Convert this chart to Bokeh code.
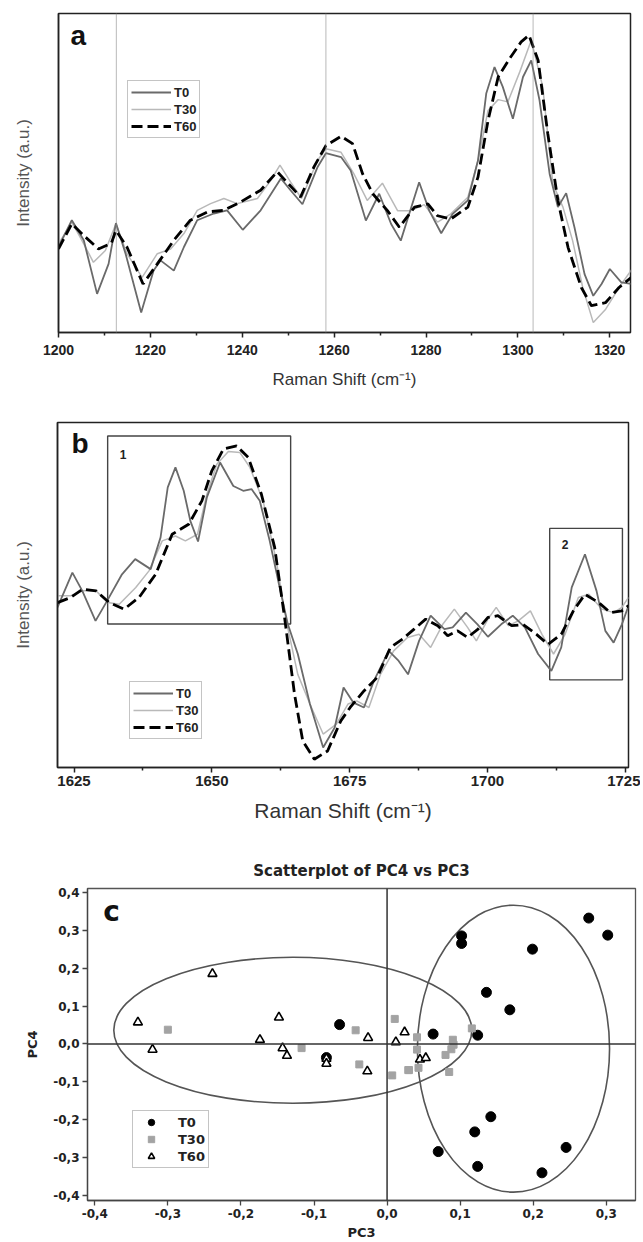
from bokeh.plotting import figure
from bokeh.models import Span, Label, Legend, LegendItem, FixedTicker, Range1d
from bokeh.embed import file_html
from bokeh.resources import INLINE

# ---------------- Panel a data ----------------
a_t0_x = [1200.0, 1202.9, 1205.5, 1208.4, 1210.9, 1212.5, 1214.6, 1218.0, 1220.7, 1222.2, 1225.1, 1227.3, 1230.2,
          1233.8, 1236.7, 1240.1, 1244.0, 1248.4, 1250.5, 1253.1, 1256.4, 1258.2, 1261.5, 1263.6, 1266.9, 1269.8,
          1272.4, 1274.5, 1278.5, 1280.7, 1283.3, 1285.8, 1289.1, 1291.3, 1293.1, 1294.9, 1296.7, 1298.9, 1301.1,
          1302.9, 1304.7, 1306.9, 1308.7, 1310.5, 1312.3, 1314.5, 1316.4, 1318.2, 1320.0, 1322.5, 1324.7]
a_t0_y = [26.8, 35.2, 28.9, 12.1, 21.5, 34.3, 24.7, 6.3, 19.4, 22.6, 19.4, 26.8, 35.2, 37.3, 38.3, 32.2, 38.3, 48.3,
          44.6, 40.2, 51.9, 56.2, 55.0, 50.8, 35.1, 43.5, 34.0, 28.8, 47.1, 38.2, 31.1, 37.2, 41.4, 53.9, 74.9, 83.2,
          77.0, 67.0, 80.1, 85.3, 72.8, 49.7, 39.3, 43.7, 33.0, 18.3, 11.5, 15.2, 19.9, 15.7, 15.2]
a_t30_x = [1200.0, 1202.9, 1205.5, 1207.6, 1210.2, 1212.5, 1214.9, 1218.2, 1221.5, 1224.4, 1227.3, 1230.2, 1233.1,
           1236.0, 1238.9, 1243.3, 1246.2, 1248.2, 1250.5, 1252.9, 1256.4, 1258.2, 1261.5, 1264.3, 1267.2, 1270.5,
           1273.8, 1276.7, 1279.6, 1282.5, 1285.4, 1289.1, 1291.3, 1293.5, 1295.7, 1297.8, 1300.4, 1302.9, 1305.4,
           1307.6, 1309.8, 1311.9, 1314.1, 1316.4, 1319.1, 1322.0, 1324.7]
a_t30_y = [27.8, 34.6, 27.8, 22.0, 25.7, 34.1, 24.7, 17.3, 24.7, 26.2, 31.0, 38.3, 40.4, 42.0, 40.4, 42.0, 47.7, 52.5,
           47.2, 42.0, 54.0, 57.6, 56.5, 49.7, 41.4, 46.8, 38.2, 38.2, 40.1, 34.6, 37.2, 42.4, 53.9, 69.6, 73.0, 72.3,
           81.7, 91.6, 77.0, 46.6, 39.3, 28.8, 14.1, 3.1, 7.3, 14.1, 19.6]
a_t60_x = [1200.0, 1202.9, 1205.5, 1208.7, 1211.5, 1212.5, 1214.9, 1218.4, 1221.5, 1225.1, 1228.7, 1232.4, 1236.0,
           1239.6, 1244.0, 1247.6, 1252.7, 1255.6, 1258.2, 1261.5, 1264.0, 1266.2, 1268.4, 1271.6, 1274.2, 1277.5,
           1280.4, 1282.5, 1285.4, 1289.1, 1291.3, 1293.5, 1295.7, 1298.2, 1300.7, 1302.4, 1304.4, 1306.5, 1308.7,
           1310.9, 1313.8, 1316.0, 1319.1, 1322.0, 1324.7]
a_t60_y = [26.2, 34.1, 30.4, 26.2, 28.0, 32.0, 26.8, 15.2, 21.5, 28.9, 35.2, 37.8, 38.3, 40.9, 44.6, 50.4, 42.5, 51.9,
           58.6, 61.5, 59.2, 49.7, 43.5, 38.2, 33.0, 39.3, 40.3, 36.6, 35.6, 39.3, 48.7, 66.5, 80.1, 85.9, 91.1, 93.2,
           85.3, 62.3, 41.4, 26.7, 14.1, 8.4, 9.4, 14.1, 17.3]
a_ref_lines = [1212.6, 1258.2, 1303.3]
a_ticks = [1200, 1220, 1240, 1260, 1280, 1300, 1320]
a_minor = [1210, 1230, 1250, 1270, 1290, 1310]

# ---------------- Panel b data ----------------
b_t0_x = [1622.0, 1624.7, 1626.5, 1628.9, 1631.0, 1633.7, 1636.1, 1638.9, 1640.7, 1642.0, 1643.4, 1644.9, 1646.1,
          1647.5, 1649.1, 1651.5, 1653.9, 1655.7, 1657.2, 1658.7, 1660.5, 1662.3, 1663.8, 1665.6, 1667.8, 1670.2,
          1672.3, 1673.9, 1675.7, 1677.6, 1679.4, 1682.1, 1683.9, 1685.6, 1687.6, 1689.7, 1692.2, 1693.7, 1696.1,
          1698.2, 1700.1, 1702.5, 1704.6, 1706.8, 1709.2, 1711.6, 1713.4, 1715.3, 1717.7, 1719.8, 1721.4, 1722.9,
          1724.4, 1725.6]
b_t0_y = [46.4, 56.5, 51.2, 42.5, 48.3, 56.0, 60.4, 57.5, 66.7, 81.2, 87.0, 80.2, 71.5, 65.5, 78.3, 88.4, 81.6, 80.2,
          80.7, 77.3, 65.7, 52.2, 41.5, 32.9, 18.4, 5.8, 11.6, 23.2, 18.8, 17.4, 25.1, 33.8, 30.9, 27.0, 36.7, 44.0,
          40.1, 40.6, 44.9, 41.5, 37.9, 41.5, 44.0, 40.6, 32.9, 28.0, 34.8, 52.2, 61.8, 51.2, 39.6, 36.2, 41.5, 46.9]
b_t30_x = [1622.0, 1624.4, 1626.6, 1629.0, 1631.1, 1633.2, 1636.2, 1638.6, 1641.0, 1643.4, 1645.2, 1647.4, 1649.1,
           1650.9, 1653.0, 1655.1, 1656.9, 1659.3, 1661.7, 1663.5, 1665.6, 1667.8, 1670.2, 1672.6, 1674.7, 1676.3,
           1678.5, 1680.6, 1683.0, 1685.5, 1687.6, 1689.7, 1691.9, 1694.0, 1696.4, 1698.0, 1700.1, 1701.6, 1703.8,
           1705.6, 1707.8, 1709.9, 1712.0, 1714.1, 1716.5, 1718.4, 1720.8, 1722.9, 1724.4, 1725.6]
b_t30_y = [49.8, 49.8, 51.2, 51.2, 47.8, 47.3, 52.2, 57.0, 65.7, 67.1, 65.7, 67.6, 79.2, 87.9, 91.6, 91.3, 87.0, 77.3,
           59.9, 42.5, 27.0, 18.4, 9.7, 12.6, 18.4, 19.3, 17.4, 27.0, 33.8, 37.7, 38.6, 34.8, 41.5, 45.9, 40.6, 36.7,
           43.0, 46.4, 41.1, 42.5, 45.4, 38.6, 32.9, 38.6, 49.3, 50.2, 45.9, 44.9, 46.4, 49.3]
b_t60_x = [1622.0, 1624.4, 1626.6, 1629.0, 1631.4, 1634.1, 1636.8, 1639.8, 1642.8, 1645.8, 1648.2, 1650.0, 1652.1,
           1654.5, 1656.6, 1659.0, 1661.4, 1663.2, 1665.0, 1666.5, 1668.6, 1671.0, 1673.4, 1675.1, 1677.6, 1680.0,
           1682.4, 1684.6, 1686.7, 1688.8, 1691.0, 1692.8, 1694.6, 1696.4, 1698.3, 1700.1, 1701.9, 1704.4, 1706.5,
           1708.9, 1711.0, 1713.4, 1715.6, 1717.7, 1720.2, 1722.3, 1724.4, 1725.6]
b_t60_y = [47.8, 49.3, 51.7, 51.2, 47.8, 45.9, 49.3, 56.0, 67.6, 70.5, 77.3, 86.0, 92.3, 93.2, 89.9, 79.2, 63.8, 43.5,
           21.3, 7.7, 2.4, 4.8, 13.5, 17.4, 22.2, 26.1, 34.8, 37.2, 40.1, 43.0, 41.1, 38.2, 39.6, 37.7, 40.1, 43.5,
           44.0, 41.1, 41.4, 38.6, 35.7, 38.6, 45.4, 50.2, 47.8, 44.9, 45.4, 46.9]
b_box_left = [1631.1, 1711.3]
b_box_right = [1664.3, 1724.5]
b_box_bottom = [41.6, 25.4]
b_box_top = [96.1, 69.3]
b_box_names = ["1", "2"]
b_box_label_x = [1633.9, 1714.1]
b_box_label_y = [90.6, 64.5]
b_ticks = [1625, 1650, 1675, 1700, 1725]
b_minor = [1637.5, 1662.5, 1687.5, 1712.5]

# ---------------- Panel c data ----------------
c_t0_x = [0.102, 0.102, 0.276, 0.302, 0.199, 0.136, 0.168, -0.065, 0.063, 0.124, -0.083, 0.142, 0.120, 0.070,
          0.124, 0.245, 0.212]
c_t0_y = [0.285, 0.265, 0.332, 0.287, 0.250, 0.136, 0.090, 0.051, 0.026, 0.023, -0.036, -0.192, -0.232, -0.284,
          -0.323, -0.273, -0.340]
c_t30_x = [-0.300, -0.117, -0.043, -0.038, 0.0105, 0.007, 0.030, 0.029, 0.041, 0.041, 0.043, 0.080, 0.088, 0.090,
           0.091, 0.085, 0.116]
c_t30_y = [0.0375, -0.011, 0.036, -0.054, 0.066, -0.083, -0.069, -0.069, 0.0175, -0.015, -0.063, -0.029, -0.014,
           0.011, -0.002, -0.074, 0.041]
c_t60_x = [-0.341, -0.321, -0.239, -0.174, -0.148, -0.143, -0.137, -0.083, -0.083, -0.026, -0.027, 0.012, 0.024,
           0.045, 0.053]
c_t60_y = [0.057, -0.015, 0.185, 0.011, 0.070, -0.011, -0.031, -0.039, -0.052, 0.016, -0.072, 0.005, 0.031,
           -0.041, -0.037]
c_ell_x = [-0.129, 0.173]
c_ell_y = [0.036, -0.0125]
c_ell_w = [0.490, 0.263]
c_ell_h = [0.385, 0.757]
c_xticks = [-0.4, -0.3, -0.2, -0.1, 0.0, 0.1, 0.2, 0.3]
c_xlabels = ["-0,4", "-0,3", "-0,2", "-0,1", "0,0", "0,1", "0,2", "0,3"]
c_yticks = [-0.4, -0.3, -0.2, -0.1, 0.0, 0.1, 0.2, 0.3, 0.4]
c_ylabels = ["-0,4", "-0,3", "-0,2", "-0,1", "0,0", "0,1", "0,2", "0,3", "0,4"]

SANS = "Liberation Sans"
T0_COLOR = "#6a6a6a"
T30_COLOR = "#b9b9b9"
T60_COLOR = "#000000"
FIG_W = 640


def style_spectrum(p, ticks, minor, tick_size, xlabel_size, label_standoff, xlabel_standoff, ylabel_standoff):
    p.grid.visible = False
    p.outline_line_color = "#222222"
    p.outline_line_width = 1.5
    p.background_fill_color = "white"
    p.border_fill_color = "white"
    xa = p.xaxis[0]
    xa.ticker = FixedTicker(ticks=ticks, minor_ticks=minor)
    xa.major_tick_in = 0
    xa.major_tick_out = 5
    xa.minor_tick_in = 0
    xa.minor_tick_out = 3
    xa.axis_line_width = 1.5
    xa.axis_line_color = "#222222"
    xa.major_tick_line_color = "#222222"
    xa.major_tick_line_width = 1.5
    xa.minor_tick_line_color = "#222222"
    xa.minor_tick_line_width = 1.5
    xa.major_label_text_font = SANS
    xa.major_label_text_font_style = "bold"
    xa.major_label_text_font_size = tick_size
    xa.major_label_text_color = "#222222"
    xa.major_label_standoff = label_standoff
    xa.axis_label = "Raman Shift (cm\u207b\u00b9)"
    xa.axis_label_text_font = SANS
    xa.axis_label_text_font_style = "normal"
    xa.axis_label_text_font_size = xlabel_size
    xa.axis_label_text_color = "#333333"
    xa.axis_label_standoff = xlabel_standoff
    ya = p.yaxis[0]
    ya.ticker = FixedTicker(ticks=[])
    ya.major_tick_out = 0
    ya.major_tick_in = 0
    ya.minor_tick_out = 0
    ya.minor_tick_in = 0
    ya.axis_line_color = "#222222"
    ya.axis_line_width = 1.5
    ya.axis_label = "Intensity (a.u.)"
    ya.axis_label_text_font = SANS
    ya.axis_label_text_font_style = "normal"
    ya.axis_label_text_font_size = "17px"
    ya.axis_label_text_color = "#555555"
    ya.axis_label_standoff = ylabel_standoff


def add_lines_legend(p, xs, ys, loc):
    r30 = p.line(xs[1], ys[1], line_color=T30_COLOR, line_width=1.5)
    r0 = p.line(xs[0], ys[0], line_color=T0_COLOR, line_width=1.8)
    r60 = p.line(xs[2], ys[2], line_color=T60_COLOR, line_width=2.8, line_dash="11 5")
    leg = Legend(items=[LegendItem(label="T0", renderers=[r0]),
                        LegendItem(label="T30", renderers=[r30]),
                        LegendItem(label="T60", renderers=[r60])],
                 location=loc)
    leg.border_line_color = "#8a8a8a"
    leg.border_line_width = 1.3
    leg.background_fill_color = "white"
    leg.background_fill_alpha = 1.0
    leg.label_text_font = SANS
    leg.label_text_font_style = "bold"
    leg.label_text_font_size = "13px"
    leg.label_text_color = "#222222"
    leg.glyph_width = 40
    leg.glyph_height = 16
    leg.label_height = 16
    leg.label_standoff = 3
    leg.spacing = 1
    leg.padding = 3
    leg.margin = 0
    p.add_layout(leg)


# ---------------- Figure a ----------------
pa = figure(width=FIG_W, height=400, x_range=Range1d(1200, 1324.5), y_range=Range1d(0, 100),
            output_backend="svg", toolbar_location=None,
            min_border_left=58, min_border_right=10, min_border_top=13, min_border_bottom=68)
style_spectrum(pa, a_ticks, a_minor, "14px", "17px", 7, 12, 26)
for loc in a_ref_lines:
    pa.add_layout(Span(location=loc, dimension="height", line_color="#8a8a8a",
                       line_width=1.2, line_dash="1 1"))
add_lines_legend(pa, [a_t0_x, a_t30_x, a_t60_x], [a_t0_y, a_t30_y, a_t60_y], (69, 194))
pa.add_layout(Label(x=1204.3, y=93, text="a", text_font=SANS, text_font_style="bold",
                    text_font_size="28px", text_align="center", text_baseline="middle", text_color="#111111"))

# ---------------- Figure b ----------------
pb = figure(width=FIG_W, height=440, x_range=Range1d(1622, 1725.6), y_range=Range1d(0, 100),
            output_backend="svg", toolbar_location=None,
            min_border_left=57, min_border_right=12, min_border_top=22, min_border_bottom=73)
style_spectrum(pb, b_ticks, b_minor, "15px", "21px", 3, 10, 25)
pb.quad(left=b_box_left, right=b_box_right, bottom=b_box_bottom, top=b_box_top,
        fill_color=None, line_color="#444444", line_width=1.4)
for tx, ty, tt in zip(b_box_label_x, b_box_label_y, b_box_names):
    pb.add_layout(Label(x=tx, y=ty, text=tt, text_font=SANS, text_font_style="bold",
                        text_font_size="12px", text_align="center", text_baseline="middle",
                        text_color="#222222"))
add_lines_legend(pb, [b_t0_x, b_t30_x, b_t60_x], [b_t0_y, b_t30_y, b_t60_y], (72, 28))
pb.add_layout(Label(x=1626.1, y=93.8, text="b", text_font=SANS, text_font_style="bold",
                    text_font_size="28px", text_align="center", text_baseline="middle", text_color="#111111"))

# ---------------- Figure c ----------------
CF = "DejaVu Sans"
pc = figure(width=FIG_W, height=402, x_range=Range1d(-0.41, 0.34), y_range=Range1d(-0.413, 0.41),
            output_backend="svg", toolbar_location=None, title="Scatterplot of PC4 vs PC3",
            min_border_left=87, min_border_right=5, min_border_top=48, min_border_bottom=40)
pc.title.align = "center"
pc.title.text_font = CF
pc.title.text_font_style = "bold"
pc.title.text_font_size = "15px"
pc.title.text_color = "#222222"
pc.title.standoff = 17
pc.grid.visible = False
pc.outline_line_color = "#555555"
pc.outline_line_width = 1.3
pc.xaxis.ticker = FixedTicker(ticks=c_xticks)
pc.xaxis.major_label_overrides = dict(zip(c_xticks, c_xlabels))
pc.yaxis.ticker = FixedTicker(ticks=c_yticks)
pc.yaxis.major_label_overrides = dict(zip(c_yticks, c_ylabels))
for ax in (pc.xaxis[0], pc.yaxis[0]):
    ax.major_tick_in = 0
    ax.major_tick_out = 5
    ax.minor_tick_in = 0
    ax.minor_tick_out = 0
    ax.axis_line_color = "#444444"
    ax.axis_line_width = 1.3
    ax.major_tick_line_color = "#444444"
    ax.major_tick_line_width = 1.3
    ax.major_label_text_font = CF
    ax.major_label_text_font_style = "bold"
    ax.major_label_text_font_size = "12px"
    ax.major_label_text_color = "#222222"
    ax.major_label_standoff = 3
    ax.axis_label_text_font = CF
    ax.axis_label_text_font_style = "bold"
    ax.axis_label_text_font_size = "13px"
    ax.axis_label_text_color = "#222222"
pc.xaxis.axis_label = "PC3"
pc.yaxis.axis_label = "PC4"
pc.xaxis.axis_label_standoff = 4
pc.yaxis.axis_label_standoff = 10

pc.add_layout(Span(location=0, dimension="height", line_color="#333333", line_width=1.5))
pc.add_layout(Span(location=0, dimension="width", line_color="#333333", line_width=1.5))
pc.ellipse(x=c_ell_x, y=c_ell_y, width=c_ell_w, height=c_ell_h, fill_color=None,
           line_color="#555555", line_width=1.6)
s0 = pc.scatter(c_t0_x, c_t0_y, marker="circle", size=10, fill_color="black", line_color="black")
s30 = pc.scatter(c_t30_x, c_t30_y, marker="square", size=7, fill_color="#a3a3a3", line_color="#a3a3a3")
s60 = pc.scatter(c_t60_x, c_t60_y, marker="triangle", size=9, fill_color="white", line_color="black",
                 line_width=1.6)
legc = Legend(items=[LegendItem(label="T0", renderers=[s0]),
                     LegendItem(label="T30", renderers=[s30]),
                     LegendItem(label="T60", renderers=[s60])],
              location=(45, 32))
legc.border_line_color = "#8a8a8a"
legc.border_line_width = 1.3
legc.background_fill_color = "white"
legc.label_text_font = CF
legc.label_text_font_style = "bold"
legc.label_text_font_size = "13px"
legc.label_text_color = "#222222"
legc.glyph_width = 30
legc.glyph_height = 16
legc.label_height = 16
legc.label_standoff = 12
legc.spacing = 1
legc.padding = 3
legc.margin = 0
pc.add_layout(legc)
pc.add_layout(Label(x=-0.377, y=0.349, text="c", text_font=CF, text_font_style="bold",
                    text_font_size="28px", text_align="center", text_baseline="middle", text_color="#111111"))

# Three independent roots stacked vertically (no frame alignment between panels)
open("out.html", "w").write(file_html([pa, pb, pc], INLINE))
